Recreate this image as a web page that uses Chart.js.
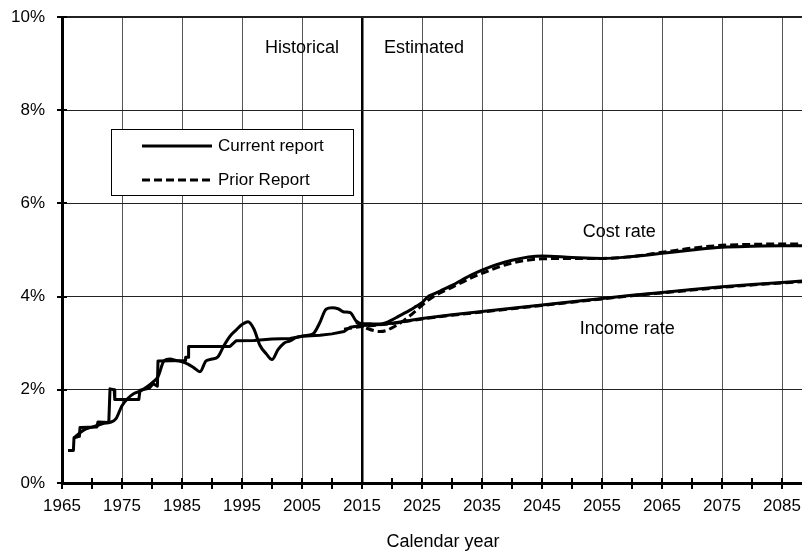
<!DOCTYPE html>
<html>
<head>
<meta charset="utf-8">
<script src="https://cdn.jsdelivr.net/npm/chart.js@4.4.1/dist/chart.umd.min.js"></script>
<style>
  html, body { margin: 0; padding: 0; background: #fff; }
  canvas { display: block; }
</style>
</head>
<body>
<canvas id="chart" width="802" height="553"></canvas>
<script>
// tick labels
const xTickYears = [1965, 1970, 1975, 1980, 1985, 1990, 1995, 2000, 2005, 2010, 2015, 2020, 2025,
  2030, 2035, 2040, 2045, 2050, 2055, 2060, 2065, 2070, 2075, 2080, 2085];
const yTickValues = [0, 2, 4, 6, 8, 10];

// historical income rate (tax-rate steps are paired points)
const incomeHistYears = [1966.0, 1966.9, 1967.0, 1967.9, 1968.0, 1970.8, 1971.0, 1972.8, 1973.0, 1973.7,
  1973.8, 1977.8, 1978.0, 1979.5, 1980.2, 1980.9, 1981.0, 1985.5, 1985.6, 1986.0, 1986.1, 1993.0,
  1994.0, 1997, 2000, 2003, 2005, 2008, 2010, 2012, 2013, 2015];
const incomeHistValues = [0.70, 0.70, 0.97, 1.00, 1.19, 1.20, 1.31, 1.30, 2.02, 2.00,
  1.79, 1.79, 1.99, 2.03, 2.13, 2.08, 2.62, 2.63, 2.70, 2.70, 2.93, 2.93,
  3.05, 3.06, 3.09, 3.10, 3.15, 3.17, 3.20, 3.25, 3.34, 3.38];

// historical cost rate
const costHistYears = [1967, 1968, 1969, 1970, 1971, 1972, 1973, 1974, 1975, 1976, 1977, 1978, 1979,
  1980, 1981, 1982, 1983, 1984, 1985, 1986, 1987, 1988, 1989, 1990, 1991, 1992, 1993, 1994, 1995,
  1996, 1997, 1998, 1999, 2000, 2001, 2002, 2003, 2004, 2005, 2006, 2007, 2008, 2009, 2010, 2011,
  2012, 2013, 2014, 2015];
const costHistValues = [0.97, 1.08, 1.16, 1.20, 1.24, 1.28, 1.30, 1.38, 1.66, 1.82, 1.92, 1.97, 2.05,
  2.15, 2.28, 2.62, 2.66, 2.63, 2.60, 2.55, 2.47, 2.39, 2.62, 2.66, 2.71, 2.95, 3.15, 3.28, 3.40,
  3.46, 3.30, 2.95, 2.78, 2.65, 2.86, 3.00, 3.05, 3.12, 3.15, 3.17, 3.22, 3.45, 3.73, 3.76, 3.74,
  3.67, 3.66, 3.48, 3.42];

// current report projections
const costProjYears = [2016, 2017, 2018, 2019, 2020, 2021, 2022, 2023, 2024, 2025, 2026, 2027, 2028,
  2030, 2033, 2035, 2040, 2045, 2050, 2055, 2060, 2065, 2070, 2075, 2080, 2085, 2090];
const costProjValues = [3.42, 3.41, 3.41, 3.44, 3.50, 3.57, 3.64, 3.71, 3.79, 3.87, 4.00, 4.06, 4.12,
  4.24, 4.45, 4.57, 4.78, 4.87, 4.84, 4.82, 4.86, 4.93, 5.00, 5.06, 5.08, 5.09, 5.09];
const incomeProjYears = [2017, 2020, 2025, 2030, 2035, 2040, 2045, 2050, 2055, 2060, 2065, 2070,
  2075, 2080, 2085, 2090];
const incomeProjValues = [3.39, 3.43, 3.53, 3.61, 3.68, 3.75, 3.82, 3.89, 3.96, 4.03, 4.09, 4.15,
  4.21, 4.26, 4.30, 4.35];

// prior report
const priorCostYears = [2014, 2015, 2016, 2017, 2018, 2019, 2020, 2021, 2022, 2023, 2024, 2025, 2026,
  2027, 2028, 2030, 2033, 2035, 2040, 2045, 2050, 2055, 2060, 2065, 2070, 2075, 2080, 2085, 2090];
const priorCostValues = [3.46, 3.36, 3.31, 3.27, 3.25, 3.27, 3.33, 3.40, 3.49, 3.59, 3.70, 3.81, 3.92,
  4.01, 4.08, 4.20, 4.39, 4.50, 4.72, 4.81, 4.82, 4.82, 4.86, 4.95, 5.04, 5.10, 5.12, 5.13, 5.13];
const priorIncomeYears = [2012, 2013, 2015, 2020, 2025, 2030, 2035, 2040, 2045, 2050, 2055, 2060,
  2065, 2070, 2075, 2080, 2085, 2090];
const priorIncomeValues = [3.30, 3.32, 3.36, 3.42, 3.52, 3.60, 3.67, 3.74, 3.81, 3.88, 3.95, 4.02,
  4.08, 4.14, 4.20, 4.25, 4.29, 4.33];

const FONT = '"Liberation Sans", Arial, sans-serif';
const pts = (xs, ys) => xs.map((x, i) => ({ x, y: ys[i] }));

const solid = { borderColor: '#000', borderWidth: 3, pointRadius: 0, fill: false, borderJoinStyle: 'round' };
const dashed = { ...solid, borderDash: [8, 4] };

// keep the plot area fixed: no extra room for edge labels
const noPad = scale => {
  scale.paddingLeft = 0; scale.paddingRight = 0;
  scale.paddingTop = 0; scale.paddingBottom = 0;
};

const overlay = {
  id: 'overlay',
  afterDatasetsDraw(chart) {
    const { ctx, chartArea: a, scales: { x, y } } = chart;
    ctx.save();

    // tick marks crossing the axes
    ctx.strokeStyle = '#000';
    ctx.lineWidth = 2;
    xTickYears.forEach(v => {
      const px = Math.round(x.getPixelForValue(v));
      ctx.beginPath(); ctx.moveTo(px, a.bottom - 5); ctx.lineTo(px, a.bottom + 6); ctx.stroke();
    });
    yTickValues.forEach(v => {
      const py = Math.round(y.getPixelForValue(v));
      ctx.beginPath(); ctx.moveTo(a.left - 5, py); ctx.lineTo(a.left + 5, py); ctx.stroke();
    });

    // legend box
    ctx.fillStyle = '#fff';
    ctx.fillRect(111, 129, 242, 66);
    ctx.lineWidth = 1;
    ctx.strokeRect(111.5, 129.5, 242, 66);
    ctx.lineWidth = 3;
    ctx.beginPath(); ctx.moveTo(142, 146); ctx.lineTo(212, 146); ctx.stroke();
    ctx.setLineDash([8, 4]);
    ctx.beginPath(); ctx.moveTo(142, 180); ctx.lineTo(212, 180); ctx.stroke();
    ctx.setLineDash([]);
    ctx.fillStyle = '#000';
    ctx.font = '17px ' + FONT;
    ctx.textBaseline = 'middle';
    ctx.textAlign = 'left';
    ctx.fillText('Current report', 218, 146);
    ctx.fillText('Prior Report', 218, 180);

    // annotations
    ctx.font = '18px ' + FONT;
    const x2015 = x.getPixelForValue(2015);
    ctx.textAlign = 'right';
    ctx.fillText('Historical', x2015 - 23, 48);
    ctx.textAlign = 'left';
    ctx.fillText('Estimated', x2015 + 22, 48);
    ctx.fillText('Cost rate', x.getPixelForValue(2051.8), y.getPixelForValue(5.39));
    ctx.fillText('Income rate', x.getPixelForValue(2051.3), y.getPixelForValue(3.30));
    ctx.textAlign = 'center';
    ctx.fillText('Calendar year', x.getPixelForValue(2028.5), 542);
    ctx.restore();
  }
};

new Chart(document.getElementById('chart'), {
  type: 'line',
  data: {
    datasets: [
      { ...solid, data: pts(costHistYears.concat(costProjYears), costHistValues.concat(costProjValues)), cubicInterpolationMode: 'monotone' },
      { ...solid, data: pts(incomeHistYears.concat(incomeProjYears), incomeHistValues.concat(incomeProjValues)) },
      { ...dashed, data: pts(priorCostYears, priorCostValues), cubicInterpolationMode: 'monotone' },
      { ...dashed, data: pts(priorIncomeYears, priorIncomeValues) }
    ]
  },
  options: {
    responsive: false,
    animation: false,
    devicePixelRatio: 1,
    layout: { padding: { top: 17, right: 0, left: 0, bottom: 0 } },
    plugins: { legend: { display: false }, tooltip: { enabled: false } },
    scales: {
      x: {
        type: 'linear',
        min: 1965,
        max: 2088.33,
        afterBuildTicks: scale => { scale.ticks = xTickYears.map(v => ({ value: v })); },
        afterFit: scale => { scale.height = 70; noPad(scale); },
        border: { display: true, color: '#000', width: 3 },
        grid: {
          drawTicks: false,
          color: ctx => {
            const v = ctx.tick && ctx.tick.value;
            if (v === 2015) return '#000';
            if (v !== 1965 && (v - 1965) % 10 === 0) return '#555';
            return 'rgba(0,0,0,0)';
          },
          lineWidth: ctx => (ctx.tick && ctx.tick.value === 2015 ? 2.5 : 1)
        },
        ticks: {
          autoSkip: false,
          maxRotation: 0,
          padding: 13,
          color: '#000',
          font: { family: FONT, size: 17 },
          callback: v => ((v - 1965) % 10 === 0 ? String(v) : '')
        }
      },
      y: {
        min: 0,
        max: 10,
        afterBuildTicks: scale => { scale.ticks = yTickValues.map(v => ({ value: v })); },
        afterFit: scale => { scale.width = 62; noPad(scale); },
        border: { display: true, color: '#000', width: 3 },
        grid: {
          drawTicks: false,
          color: '#222',
          lineWidth: ctx => (ctx.tick && ctx.tick.value === 10 ? 2 : 1)
        },
        ticks: {
          padding: 17,
          color: '#000',
          font: { family: FONT, size: 17 },
          callback: v => v + '%'
        }
      }
    }
  },
  plugins: [overlay]
});
</script>
</body>
</html>
